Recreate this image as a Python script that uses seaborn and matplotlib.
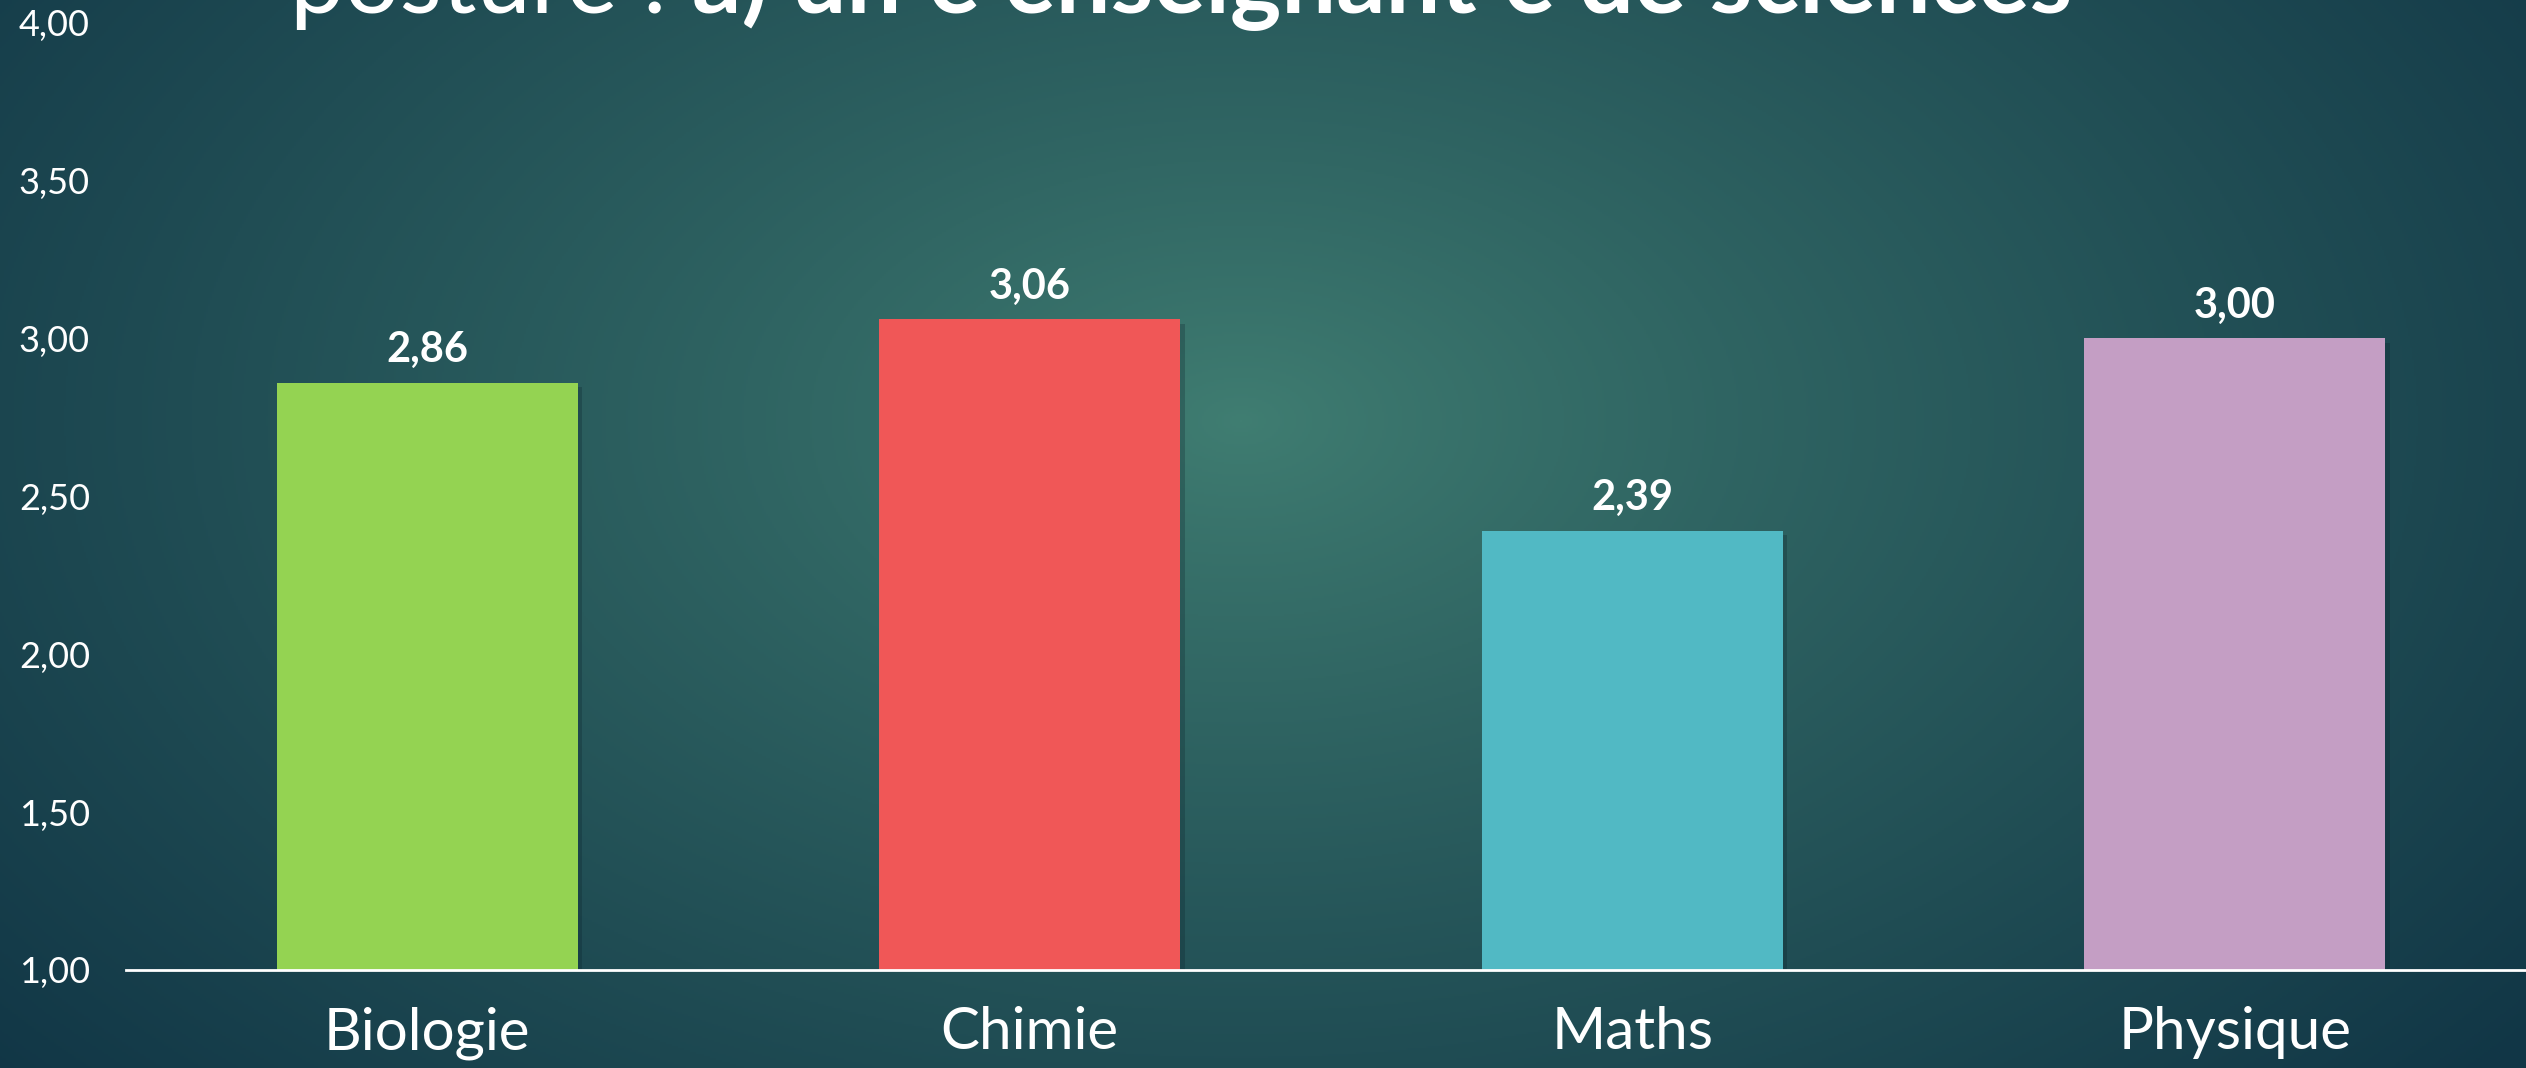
import matplotlib
matplotlib.use("Agg")
import matplotlib.pyplot as plt
import matplotlib.patheffects as pe
import seaborn as sns
import numpy as np
import pandas as pd

# chart data
categories = ["Biologie", "Chimie", "Maths", "Physique"]
scores = [2.86, 3.06, 2.39, 3.00]
bar_colors = ["#94D352", "#F05757", "#51B9C4", "#C49EC4"]
y_ticks = [1.0, 1.5, 2.0, 2.5, 3.0, 3.5, 4.0]
title_light = "posture : "
title_bold = "a) un·e enseignant·e de sciences"

df = pd.DataFrame({"matiere": categories, "score": scores})

sns.set_theme(style="white")
plt.rcParams["font.family"] = ["Lato", "DejaVu Sans"]

W, H, DPI = 2526, 1068, 100
fig = plt.figure(figsize=(W / DPI, H / DPI), dpi=DPI)

# radial teal background
bg = fig.add_axes([0, 0, 1, 1], zorder=-10)
gy, gx = np.mgrid[0:H:2, 0:W:2]
cx, cy, rx, ry = 1240, 420, 1650, 1000
r = np.sqrt(((gx - cx) / rx) ** 2 + ((gy - cy) / ry) ** 2)
t = np.clip(r, 0, 1) ** 0.85
c0 = np.array([64, 126, 114]) / 255
c1 = np.array([17, 54, 70]) / 255
img = c0 * (1 - t[..., None]) + c1 * t[..., None]
bg.imshow(img, extent=[0, 1, 0, 1], aspect="auto", origin="upper")
bg.set_axis_off()

ax = fig.add_axes([126 / W, 98 / H, 1 - 126 / W + 0.004, (970 - 22.5) / H])
ax.patch.set_alpha(0)

sns.barplot(data=df, x="matiere", y="score", hue="matiere", palette=bar_colors,
            width=0.5, legend=False, saturation=1, ax=ax, zorder=3)

for bar in ax.patches:
    bar.set_path_effects([pe.SimplePatchShadow(offset=(3, -3), alpha=0.25, shadow_rgbFace="#0a1f28"),
                          pe.Normal()])
    bar.set_edgecolor("none")

ax.set_ylim(1, 4)
ax.set_xlim(-0.5, 3.5)
ax.set_yticks(y_ticks)
ax.set_yticklabels([f"{v:.2f}".replace(".", ",") for v in y_ticks],
                   color="white", fontsize=26, fontweight="normal")
ax.tick_params(axis="y", length=0, pad=26)
ax.tick_params(axis="x", length=0, pad=26)
ax.set_xticks(range(len(categories)))
ax.set_xticklabels(categories, color="white", fontsize=42, fontweight="normal")
ax.set_xlabel("")
ax.set_ylabel("")
for side in ["left", "right", "top"]:
    ax.spines[side].set_visible(False)
ax.spines["bottom"].set_color("white")
ax.spines["bottom"].set_linewidth(2)
ax.spines["bottom"].set_zorder(5)
ax.grid(False)

for i, v in enumerate(scores):
    ax.annotate(f"{v:.2f}".replace(".", ","), xy=(i, v), xytext=(0, 15),
                textcoords="offset points", ha="center", va="baseline",
                color="white", fontsize=30, fontweight="bold")

# title, clipped at the top of the slide as in the original
t1 = fig.text(290 / W, 1 - 13 / H, title_light, color="white", fontsize=70,
              fontweight="normal", ha="left", va="baseline")
fig.canvas.draw()
ext = t1.get_window_extent()
fig.text(ext.x1 / W, 1 - 13 / H, title_bold, color="white", fontsize=70,
         fontweight="bold", ha="left", va="baseline")

fig.savefig("out.png", dpi=DPI)
